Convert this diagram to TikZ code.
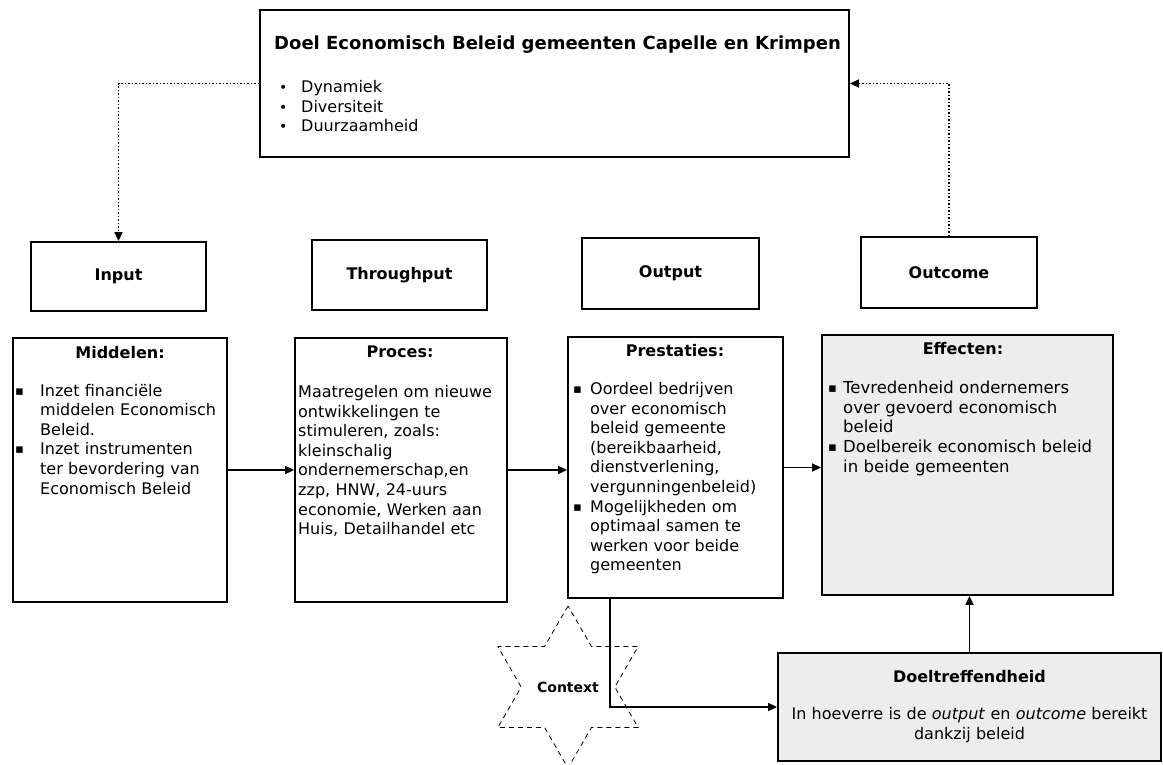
\documentclass[tikz,border=0pt]{standalone}
\usepackage{fontspec}
\setmainfont{DejaVu Sans}
\usetikzlibrary{arrows.meta,shapes.geometric}
\newcommand{\sqb}[1]{\makebox[#1][l]{\raisebox{1pt}{\fontsize{13}{13}\selectfont ▪}}}
\newcommand{\rdb}{\makebox[22pt][l]{\fontsize{14}{14}\selectfont •}}
\newcommand{\ind}[1]{\hspace*{#1}}
\begin{document}
\begin{tikzpicture}[x=1pt,y=-1pt,
  box/.style={draw=black, line width=1.8pt, inner sep=0pt, rectangle},
  hd/.style={font=\fontsize{16}{19.6}\selectfont\bfseries},
  body/.style={font=\fontsize{16}{19.6}\selectfont, anchor=base west, inner sep=0pt, text width=280pt, align=left},
  arr/.style={line width=1.6pt, -{Triangle[length=9pt,width=8pt]}},
  dots/.style={line width=1.5pt, dotted, -{Triangle[length=9pt,width=8pt]}},
  shaded/.style={fill=black!7}]
\useasboundingbox (0,0) rectangle (1163,764);
\fill[white] (0,0) rectangle (1163,764);

% goal box
\node[box, minimum width=589pt, minimum height=147pt] (doel) at (554.5,83.5) {};
\node[anchor=base west, inner sep=0pt, font=\fontsize{18}{20}\selectfont\bfseries] (doeltitle) at (274,49) {Doel Economisch Beleid gemeenten Capelle en Krimpen};
\node[body, text width=220pt] (doellist) at (279,92.5) {\rdb Dynamiek\\ \rdb Diversiteit\\ \rdb Duurzaamheid};

% top row
\node[box, hd, minimum width=175pt, minimum height=69pt] (input) at (118.5,276.5) {Input};
\node[box, hd, minimum width=175pt, minimum height=70pt] (throughput) at (399.5,275) {Throughput};
\node[box, hd, minimum width=177pt, minimum height=71pt] (output) at (670.5,273.5) {Output};
\node[box, hd, minimum width=176pt, minimum height=71pt] (outcome) at (949,272.5) {Outcome};

% lower row
\node[box, minimum width=214pt, minimum height=264pt] (middelen) at (120,470) {};
\node[hd, anchor=base, inner sep=0pt] (middelenhd) at (120,358) {Middelen:};
\node[body] (middelentx) at (15,396) {\sqb{25pt}Inzet financiële\\ \ind{25pt}middelen Economisch\\ \ind{25pt}Beleid.\\ \sqb{25pt}Inzet instrumenten\\ \ind{25pt}ter bevordering van\\ \ind{25pt}Economisch Beleid};

\node[box, minimum width=212pt, minimum height=264pt] (proces) at (401,470) {};
\node[hd, anchor=base, inner sep=0pt] (proceshd) at (400,357) {Proces:};
\node[body] (procestx) at (298,397.5) {Maatregelen om nieuwe\\ ontwikkelingen te\\ stimuleren, zoals:\\ kleinschalig\\ ondernemerschap,en\\ zzp, HNW, 24-uurs\\ economie, Werken aan\\ Huis, Detailhandel etc};

\node[box, minimum width=215pt, minimum height=261pt] (prestaties) at (675.5,467.5) {};
\node[hd, anchor=base, inner sep=0pt] (prestatieshd) at (675,356.5) {Prestaties:};
\node[body] (prestatiestx) at (573,394.5) {\sqb{17pt}Oordeel bedrijven\\ \ind{17pt}over economisch\\ \ind{17pt}beleid gemeente\\ \ind{17pt}(bereikbaarheid,\\ \ind{17pt}dienstverlening,\\ \ind{17pt}vergunningenbeleid)\\ \sqb{17pt}Mogelijkheden om\\ \ind{17pt}optimaal samen te\\ \ind{17pt}werken voor beide\\ \ind{17pt}gemeenten};

\node[box, shaded, minimum width=291pt, minimum height=260pt] (effecten) at (967.5,465) {};
\node[hd, anchor=base, inner sep=0pt] (effectenhd) at (963,354.5) {Effecten:};
\node[body, font=\fontsize{16.5}{19.7}\selectfont] (effectentx) at (828,393.5) {\sqb{15pt}Tevredenheid ondernemers\\ \ind{15pt}over gevoerd economisch\\ \ind{15pt}beleid\\ \sqb{15pt}Doelbereik economisch beleid\\ \ind{15pt}in beide gemeenten};

% context star
\node[star, star points=6, star point ratio=1.73, minimum size=162pt, draw, line width=0.8pt, dash pattern=on 5pt off 4pt, inner sep=0pt, font=\fontsize{14}{16}\selectfont\bfseries] (context) at (568,687) {Context};

% effectiveness box
\node[box, shaded, minimum width=383pt, minimum height=108pt] (doeltr) at (969.5,707) {};
\node[hd, anchor=base, inner sep=0pt] (doeltrhd) at (969.5,682) {Doeltreffendheid};
\node[font=\fontsize{16}{20}\selectfont, anchor=base, inner sep=0pt, text width=383pt, align=center] (doeltrtx) at (969.5,719.5) {In hoeverre is de \textit{output} en \textit{outcome} bereikt\\ dankzij beleid};

% connectors
\draw[arr] (middelen.east) -- (proces.west);
\draw[arr] (proces.east) -- (proces.east -| prestaties.west);
\draw[arr] (prestaties.east) -- (prestaties.east -| effecten.west);
\draw[arr] (doeltr.north) -- (doeltr.north |- effecten.south);
\draw[arr] ([xshift=43pt]prestaties.south west) |- (doeltr.west);
\draw[dots] (doel.west) -| (input.north);
\draw[dots] (outcome.north) |- (doel.east);
\end{tikzpicture}
\end{document}
